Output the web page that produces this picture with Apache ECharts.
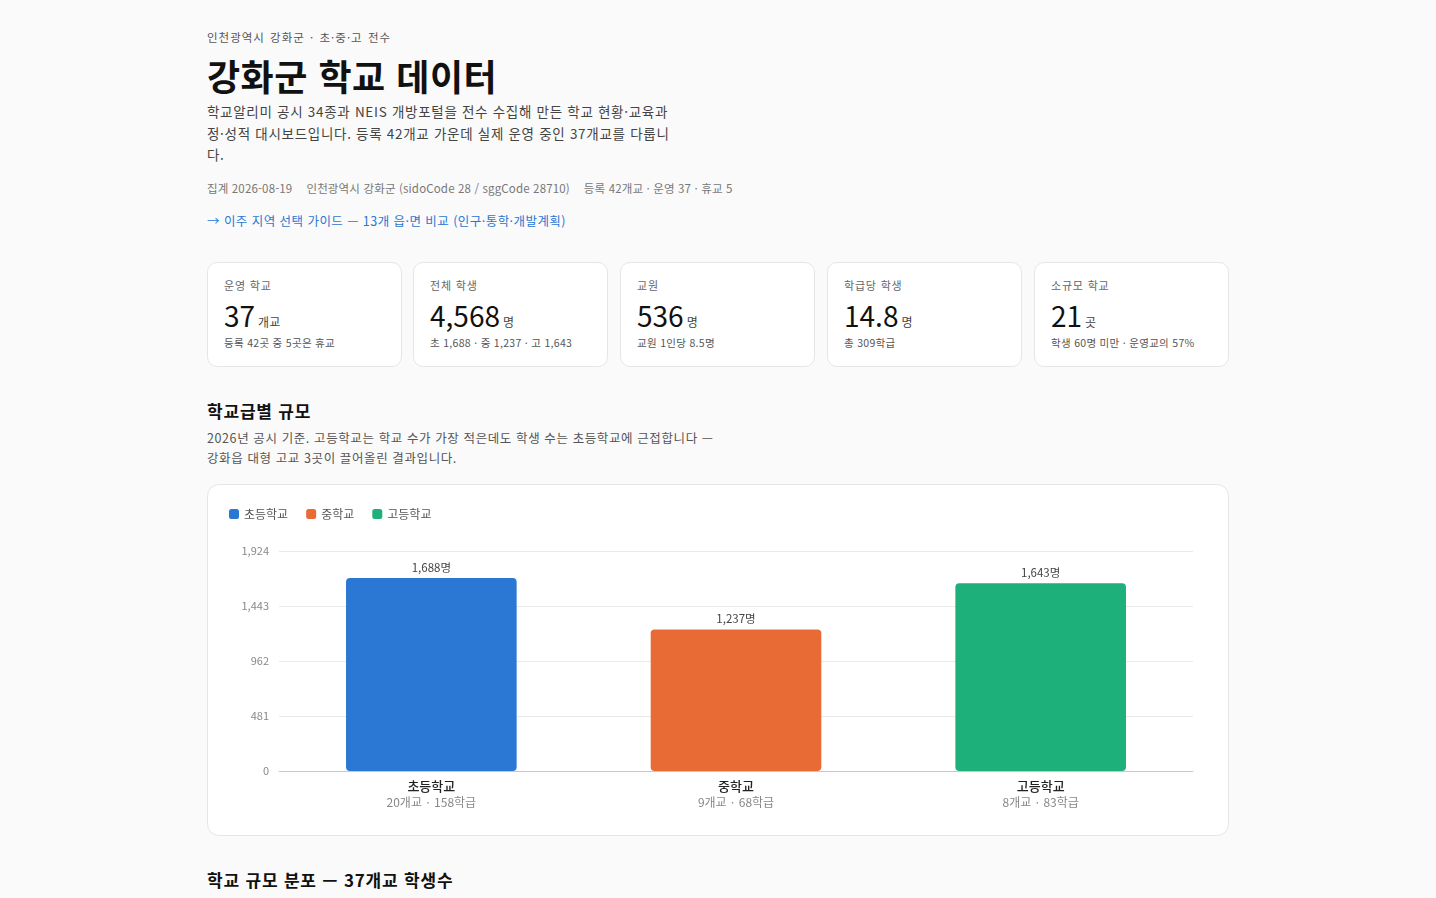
<!DOCTYPE html>
<html lang="ko">
<head>
<meta charset="utf-8">
<script src="https://cdn.jsdelivr.net/npm/echarts@6/dist/echarts.min.js"></script>
<style>
  html,body{margin:0;padding:0;background:#fafafa;}
  body{font-family:"Noto Sans CJK KR","Noto Sans",sans-serif;color:#111;width:1436px;height:898px;overflow:hidden;position:relative;}
  .wrap{position:absolute;left:207px;top:0;width:1022px;}
  .eyebrow{position:absolute;top:29px;left:0;font-size:11.5px;color:#555;letter-spacing:1px;white-space:nowrap;word-spacing:1px;}
  h1{position:absolute;top:52px;left:0;margin:0;font-size:36px;font-weight:700;line-height:46px;white-space:nowrap;letter-spacing:0.5px;}
  .desc{position:absolute;top:101px;left:0;font-size:13.5px;line-height:21.5px;color:#444;white-space:nowrap;letter-spacing:0.7px;}
  .meta{position:absolute;top:180px;left:0;font-size:11.5px;color:#777;white-space:nowrap;letter-spacing:0.15px;}
  .meta span{margin-right:14px;}
  .link{position:absolute;top:211px;left:0;font-size:12.5px;color:#2a77d4;white-space:nowrap;letter-spacing:0.45px;}
  .cards{position:absolute;top:262px;left:0;width:1022px;height:105px;}
  .card{position:absolute;top:0;width:193px;height:103px;background:#fff;border:1px solid #e6e6e6;border-radius:10px;box-sizing:content-box;}
  .card .lb{position:absolute;left:16px;top:14px;font-size:11px;color:#666;letter-spacing:0.8px;}
  .card .val{position:absolute;left:16px;top:34px;font-size:28px;line-height:36px;color:#111;white-space:nowrap;}
  .card .val small{font-size:12px;color:#444;margin-left:3px;}
  .card .sub{position:absolute;left:16px;top:72px;font-size:10.5px;color:#555;white-space:nowrap;letter-spacing:0.3px;}
  h2{position:absolute;left:0;margin:0;font-size:17px;font-weight:700;line-height:24px;white-space:nowrap;letter-spacing:0.8px;}
  .sdesc{position:absolute;top:428px;left:0;font-size:12.5px;line-height:20px;color:#555;white-space:nowrap;letter-spacing:0.6px;}
  .chartcard{position:absolute;top:484px;left:0;width:1020px;height:350px;background:#fff;border:1px solid #e6e6e6;border-radius:12px;}
  #chart{position:absolute;left:0;top:0;width:1020px;height:350px;}
</style>
</head>
<body>
<div class="wrap">
  <div class="eyebrow">인천광역시 강화군 · 초·중·고 전수</div>
  <h1>강화군 학교 데이터</h1>
  <div class="desc">학교알리미 공시 34종과 NEIS 개방포털을 전수 수집해 만든 학교 현황·교육과<br>정·성적 대시보드입니다. 등록 42개교 가운데 실제 운영 중인 37개교를 다룹니<br>다.</div>
  <div class="meta"><span>집계 2026-08-19</span><span>인천광역시 강화군 (sidoCode 28 / sggCode 28710)</span><span>등록 42개교 · 운영 37 · 휴교 5</span></div>
  <div class="link">→ 이주 지역 선택 가이드 — 13개 읍·면 비교 (인구·통학·개발계획)</div>
  <div class="cards" id="cards"></div>
  <h2 style="top:399px;">학교급별 규모</h2>
  <div class="sdesc">2026년 공시 기준. 고등학교는 학교 수가 가장 적은데도 학생 수는 초등학교에 근접합니다 —<br>강화읍 대형 고교 3곳이 끌어올린 결과입니다.</div>
  <div class="chartcard"><div id="chart"></div></div>
  <h2 style="top:868px;">학교 규모 분포 — 37개교 학생수</h2>
</div>
<script>
// ---- data ----
const categories = ['초등학교', '중학교', '고등학교'];
const students = [1688, 1237, 1643];
const schoolCounts = [20, 9, 8];
const classCounts = [158, 68, 83];
const yTicks = [0, 481, 962, 1443, 1924];
const colors = ['#2a77d4', '#e86a35', '#1db07b'];

const kpiLabels = ['운영 학교', '전체 학생', '교원', '학급당 학생', '소규모 학교'];
const kpiValues = ['37', '4,568', '536', '14.8', '21'];
const kpiUnits = ['개교', '명', '명', '명', '곳'];
const kpiSubs = ['등록 42곳 중 5곳은 휴교', '초 1,688 · 중 1,237 · 고 1,643', '교원 1인당 8.5명', '총 309학급', '학생 60명 미만 · 운영교의 57%'];

// ---- KPI cards ----
const cardsEl = document.getElementById('cards');
const cardLefts = [0, 206, 413, 620, 827];
kpiLabels.forEach((lb, i) => {
  const d = document.createElement('div');
  d.className = 'card';
  d.style.left = cardLefts[i] + 'px';
  d.innerHTML = '<div class="lb">' + lb + '</div><div class="val">' + kpiValues[i] + '<small>' + kpiUnits[i] + '</small></div><div class="sub">' + kpiSubs[i] + '</div>';
  cardsEl.appendChild(d);
});

// ---- chart ----
const chart = echarts.init(document.getElementById('chart'), null, {renderer: 'canvas'});
const series = categories.map((c, i) => ({
  name: c,
  type: 'bar',
  stack: 'total',
  barWidth: '56%',
  data: categories.map((_, j) => j === i ? students[i] : null),
  itemStyle: {color: colors[i], borderRadius: 4},
  label: {
    show: true, position: 'top', distance: 5,
    color: '#444', fontSize: 11.5,
    fontFamily: '"Noto Sans CJK KR", sans-serif',
    formatter: p => p.value == null ? '' : p.value.toLocaleString('en-US') + '명'
  }
}));
chart.setOption({
  animation: false,
  textStyle: {fontFamily: '"Noto Sans CJK KR", sans-serif'},
  legend: {
    left: 16, top: 18, itemWidth: 10, itemHeight: 10, itemGap: 18,
    icon: 'roundRect',
    textStyle: {color: '#555', fontSize: 12},
    data: categories
  },
  grid: {left: 71, right: 35, top: 66, bottom: 64, containLabel: false},
  xAxis: {
    type: 'category',
    data: categories,
    axisTick: {show: false},
    axisLine: {lineStyle: {color: '#c8c8c8'}},
    axisLabel: {
      margin: 7,
      formatter: (v, idx) => '{n|' + v + '}\n{s|' + schoolCounts[idx] + '개교 · ' + classCounts[idx] + '학급}',
      rich: {
        n: {fontSize: 13, color: '#222', fontWeight: 500, lineHeight: 16},
        s: {fontSize: 12, color: '#888', lineHeight: 16}
      }
    }
  },
  yAxis: {
    type: 'value',
    min: yTicks[0], max: yTicks[yTicks.length - 1], interval: yTicks[1] - yTicks[0],
    axisLine: {show: false}, axisTick: {show: false},
    splitLine: {lineStyle: {color: '#e9e9e9'}},
    axisLabel: {color: '#888', fontSize: 11, margin: 10, formatter: v => v.toLocaleString('en-US')}
  },
  series: series
});
</script>
</body>
</html>
